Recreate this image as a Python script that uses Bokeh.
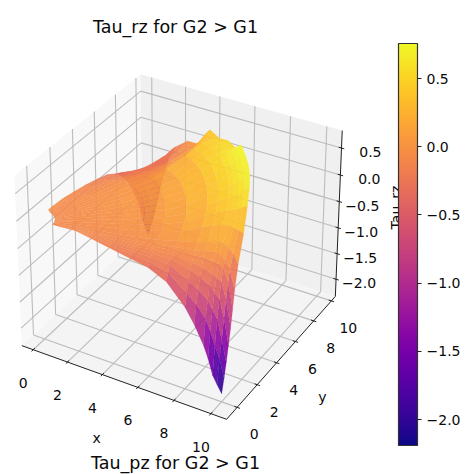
import math
import numpy as np
from bokeh.plotting import figure
from bokeh.models import ColorBar, LinearColorMapper, FixedTicker, CustomJSTickFormatter
from bokeh.palettes import Plasma256
from bokeh.core.properties import value
from bokeh.embed import file_html
from bokeh.resources import INLINE

TITLE_TOP = "Tau_rz for G2 > G1"
TITLE_BOTTOM = "Tau_pz for G2 > G1"
Z_LABEL = "Tau_rz"
TICKS_XY = [0, 2, 4, 6, 8, 10]
TICKS_Z = [-2.0, -1.5, -1.0, -0.5, 0.0, 0.5]
Z_MIN, Z_MAX = -2.19, 0.757

# polar grid of the surface
R = [0.7, 1, 2, 3, 4, 5, 6, 7, 8, 8.5, 9, 9.25, 9.5, 9.75, 10]
THETA = [0, 1.25, 2.5, 3.75, 5, 6.25, 7.5, 10, 15, 20, 25, 30, 35, 40, 45,
         50, 55, 60, 65, 70, 75, 80, 82.5, 85, 87.5, 90]
# Tau_rz, one row per radius, one column per angle
Z_R07 = [-.10,-.10,-.10,-.10,-.10,-.10,-.10,-.10,-.10,-.09,-.09,-.09,-.09,-.09,-.09, -.09,-.09,-.09,-.08,-.08,-.07,-.07,-.06,-.05,-.04,-.03]
Z_R1 = [-.10,-.10,-.10,-.10,-.10,-.09,-.09,-.09,-.09,-.08,-.08,-.08,-.08,-.08,-.08, -.08,-.08,-.08,-.08,-.08,-.08,-.07,-.06,-.05,-.04,-.03]
Z_R2 = [-.08,-.08,-.08,-.08,-.08,-.08,-.08,-.08,-.07,-.06,-.06,-.05,-.05,-.05,-.05, -.05,-.05,-.05,-.05,-.06,-.06,-.07,-.07,-.06,-.06,-.05]
Z_R3 = [-.14,-.13,-.12,-.11,-.10,-.09,-.08,-.07,-.05,-.04,-.03,-.03,-.02,-.02,-.02, -.02,-.03,-.03,-.04,-.05,-.07,-.09,-.10,-.10,-.10,-.10]
Z_R4 = [-.20,-.17,-.15,-.13,-.11,-.09,-.08,-.06,-.04,-.02,-.01,.00,.00,.01,.01, .01,.00,-.01,-.02,-.04,-.06,-.10,-.11,-.12,-.13,-.15]
Z_R5 = [-.26,-.21,-.17,-.14,-.12,-.10,-.08,-.05,-.01,.01,.03,.04,.05,.05,.05, .05,.04,.03,.01,-.04,-.08,-.14,-.15,-.16,-.19,-.22]
Z_R6 = [-.32,-.24,-.18,-.14,-.10,-.07,-.05,-.02,.03,.05,.07,.09,.10,.11,.11, .10,.09,.07,.00,-.05,-.12,-.20,-.22,-.24,-.27,-.30]
Z_R7 = [-.47,-.33,-.22,-.15,-.10,-.05,-.02,.03,.08,.12,.14,.17,.18,.19,.20, .18,.16,.13,.02,-.08,-.18,-.26,-.30,-.35,-.40,-.45]
Z_R8 = [-.82,-.60,-.40,-.25,-.15,-.05,.00,.08,.20,.28,.33,.35,.36,.37,.38, .36,.33,.28,.08,-.05,-.20,-.30,-.40,-.50,-.65,-.78]
Z_R85 = [-1.08,-.75,-.52,-.32,-.18,-.04,.03,.12,.26,.34,.40,.43,.45,.46,.47, .44,.41,.35,.12,-.03,-.20,-.30,-.42,-.60,-.80,-1.05]
Z_R9 = [-1.40,-.95,-.65,-.42,-.25,-.08,.06,.15,.30,.40,.47,.50,.52,.54,.55, .50,.47,.42,.20,.00,-.15,-.30,-.45,-.70,-.95,-1.35]
Z_R925 = [-1.62,-1.15,-.80,-.52,-.30,-.10,.03,.14,.30,.42,.50,.55,.58,.60,.62, .53,.50,.44,.26,.02,-.13,-.30,-.48,-.75,-1.15,-1.60]
Z_R95 = [-1.90,-1.40,-.95,-.62,-.35,-.15,-.05,.10,.28,.44,.54,.60,.63,.66,.68, .55,.52,.45,.32,.03,-.10,-.28,-.50,-.85,-1.35,-1.85]
Z_R975 = [-2.05,-1.60,-1.30,-.95,-.65,-.38,-.20,.00,.25,.48,.62,.66,.69,.71,.73, .55,.53,.45,.40,.03,-.06,-.26,-.52,-.95,-1.50,-2.05]
Z_R10 = [-2.19,-1.95,-1.70,-1.42,-1.15,-.85,-.55,-.18,.20,.52,.68,.70,.72,.73,.757, .55,.53,.42,.44,.04,-.02,-.25,-.55,-1.03,-1.67,-2.19]
Z_TABLE = [Z_R07, Z_R1, Z_R2, Z_R3, Z_R4, Z_R5, Z_R6, Z_R7, Z_R8, Z_R85, Z_R9, Z_R925, Z_R95, Z_R975, Z_R10]

# axis limits of the 3D box and the view
XLIM = (-0.67, 10.84)
YLIM = (-1.03, 10.46)
ZLIM = (-2.34, 0.82)
BOX = (1.1905, 1.1905, 0.8929)
SX, SY, OX, OY = 1970, 2170, 181, 238


def project(u, v, w):
    """Box coordinates (0..1) to page pixels, elev 30 azim -60, perspective."""
    u, v, w = np.asarray(u, float), np.asarray(v, float), np.asarray(w, float)
    qx, qy, qz = (u - .5) * BOX[0], (v - .5) * BOX[1], (w - .5) * BOX[2]
    xc = .866025 * qx + .5 * qy
    yc = -.25 * qx + .433013 * qy + .866025 * qz
    nz = .433013 * qx - .75 * qy + .5 * qz
    d = 10 - nz
    return OX + SX * xc / d, OY - SY * yc / d, nz


def ux(x): return (np.asarray(x, float) - XLIM[0]) / (XLIM[1] - XLIM[0])
def vy(y): return (np.asarray(y, float) - YLIM[0]) / (YLIM[1] - YLIM[0])
def wz(z): return (np.asarray(z, float) - ZLIM[0]) / (ZLIM[1] - ZLIM[0])


p = figure(width=465, height=474, x_range=(0, 465), y_range=(474, 0),
           toolbar_location=None, output_backend="svg", min_border=0,
           background_fill_color="white", border_fill_color="white")
p.axis.visible = False
p.grid.visible = False
p.outline_line_color = None


def pane(corners, colour):
    px, py, _ = project(*zip(*corners))
    p.patch(list(px), list(py), fill_color=colour, line_color=None)


pane([(0, 0, 0), (0, 1, 0), (0, 1, 1), (0, 0, 1)], "#f8f8f8")   # left wall
pane([(0, 1, 0), (1, 1, 0), (1, 1, 1), (0, 1, 1)], "#f0f0f0")   # back wall
pane([(0, 0, 0), (1, 0, 0), (1, 1, 0), (0, 1, 0)], "#f4f4f4")   # floor

# grid lines
gx, gy = [], []


def seg(a, b):
    px, py, _ = project(*zip(a, b))
    gx.append(list(px))
    gy.append(list(py))


for t in TICKS_XY:
    u, v = float(ux(t)), float(vy(t))
    seg((u, 0, 0), (u, 1, 0)); seg((u, 1, 0), (u, 1, 1))
    seg((0, v, 0), (1, v, 0)); seg((0, v, 0), (0, v, 1))
for t in TICKS_Z:
    w = float(wz(t))
    seg((0, 0, w), (0, 1, w)); seg((0, 1, w), (1, 1, w))
p.multi_line(gx, gy, line_color="#bcbcbc", line_width=1.1)

# axis lines and ticks
ax_x, ax_y = [], []


def aseg(a, b):
    px, py, _ = project(*zip(a, b))
    ax_x.append(list(px))
    ax_y.append(list(py))


aseg((0, 0, 0), (1, 0, 0)); aseg((1, 0, 0), (1, 1, 0)); aseg((1, 1, 0), (1, 1, 1))
TL = .013
for t in TICKS_XY:
    u, v = float(ux(t)), float(vy(t))
    aseg((u, -TL, 0), (u, TL, 0))
    aseg((1 - TL, v, 0), (1 + TL, v, 0))
for t in TICKS_Z:
    w = float(wz(t))
    aseg((1 - TL, 1, w), (1 + TL, 1, w))
p.multi_line(ax_x, ax_y, line_color="#222222", line_width=1.0)

# surface: quads from far to near
rr = np.array(R)
th = np.radians(THETA)
X = np.outer(rr, np.cos(th))
Y = np.outer(rr, np.sin(th))
Z = np.array(Z_TABLE)
PX, PY, NZ = project(ux(X), vy(Y), wz(Z))
quads = []
for i in range(len(R) - 1):
    for j in range(len(THETA) - 1):
        idx = [(i, j), (i + 1, j), (i + 1, j + 1), (i, j + 1)]
        depth = np.mean([NZ[k] for k in idx])
        zm = np.mean([Z[k] for k in idx])
        f = min(max((zm - Z_MIN) / (Z_MAX - Z_MIN), 0), 1)
        quads.append((depth, [PX[k] for k in idx], [PY[k] for k in idx], Plasma256[int(f * 255)]))
quads.sort(key=lambda q: q[0])
p.patches([q[1] for q in quads], [q[2] for q in quads], fill_color=[q[3] for q in quads],
          fill_alpha=0.92, line_color=[q[3] for q in quads], line_alpha=0.6, line_width=0.3)

FONT = value("DejaVu Sans")
TICK_SIZE = "14px"


def lab(x, y, s, size=TICK_SIZE, align="center", dx=0, dy=0, angle=0):
    p.text([x], [y], text=[s], text_font=FONT, text_font_size=size, text_color="#0a0a0a",
           text_align=align, text_baseline="middle", x_offset=dx, y_offset=dy, angle=angle)


def mtxt(t):
    return f"{t:.1f}".replace("-", "\u2212")


for t in TICKS_XY:
    px, py, _ = project(ux(t), 0.0, 0.0)
    lab(float(px), float(py), str(t), dx=-10, dy=33)
    px, py, _ = project(1.0, vy(t), 0.0)
    lab(float(px), float(py), str(t), dx=17, dy=27)
for t in TICKS_Z:
    px, py, _ = project(1.0, 1.0, wz(t))
    lab(float(px), float(py), mtxt(t), align="right", dx=40, dy=4)

px, py, _ = project(0.5, 0.0, 0.0)
lab(float(px), float(py), "x", dx=-25, dy=56)
px, py, _ = project(1.0, 0.5, 0.0)
lab(float(px), float(py), "y", dx=39, dy=42)
lab(175, 26, TITLE_TOP, size="17.5px")
lab(175, 462, TITLE_BOTTOM, size="17.5px")
lab(395, 207, Z_LABEL, angle=math.pi / 2)

mapper = LinearColorMapper(palette=Plasma256, low=Z_MIN, high=Z_MAX)
cb = ColorBar(color_mapper=mapper, width=19, height=402, location=(398, 29), padding=0, margin=0,
              ticker=FixedTicker(ticks=TICKS_Z), major_label_text_font="DejaVu Sans",
              major_label_text_font_size=TICK_SIZE, major_label_text_color="#0a0a0a",
              formatter=CustomJSTickFormatter(code="return tick.toFixed(1).replace('-', '\u2212')"),
              major_tick_in=0, major_tick_out=4, major_tick_line_color="#222222",
              minor_tick_line_color=None, bar_line_color="#333333", bar_line_width=1.2,
              background_fill_alpha=0, border_line_color=None, label_standoff=5)
p.add_layout(cb, "center")

open("out.html", "w").write(file_html(p, INLINE))
